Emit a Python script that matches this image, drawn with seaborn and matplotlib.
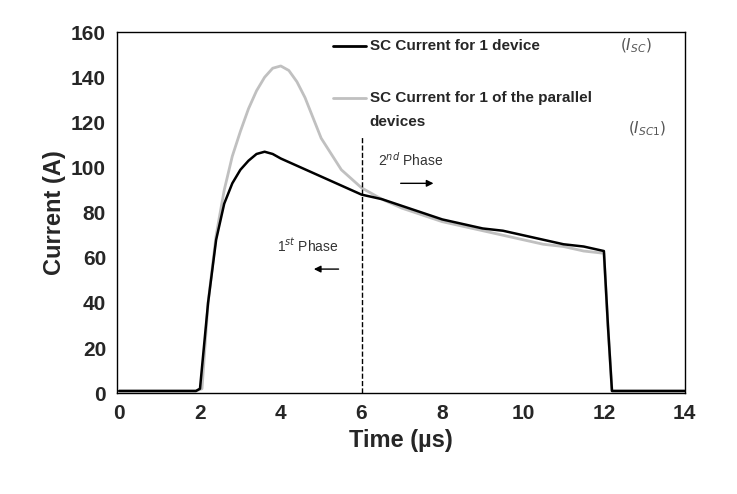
import numpy as np
import pandas as pd
import matplotlib
matplotlib.use('Agg')
import matplotlib.pyplot as plt
import seaborn as sns

# time points (µs) and currents (A)
t_single = [0, 1, 1.9, 2.0, 2.2, 2.4, 2.6, 2.8, 3.0, 3.2, 3.4, 3.6, 3.8, 4.0, 4.5, 5.0, 5.5,
            6.0, 6.5, 7.0, 7.5, 8.0, 8.5, 9.0, 9.5, 10.0, 10.5, 11.0, 11.5, 12.0, 12.1, 12.2, 13, 14]
i_single = [1, 1, 1, 2, 40, 68, 84, 93, 99, 103, 106, 107, 106, 104, 100, 96, 92,
            88, 86, 83, 80, 77, 75, 73, 72, 70, 68, 66, 65, 63, 30, 1, 1, 1]

t_par = [0, 1, 1.9, 2.05, 2.2, 2.4, 2.6, 2.8, 3.0, 3.2, 3.4, 3.6, 3.8, 4.0, 4.2, 4.4, 4.6, 4.8, 5.0,
         5.5, 6.0, 6.5, 7.0, 7.5, 8.0, 8.5, 9.0, 9.5, 10.0, 10.5, 11.0, 11.5, 12.0, 12.1, 12.2, 13, 14]
i_par = [1, 1, 1, 2, 40, 70, 90, 105, 116, 126, 134, 140, 144, 145, 143, 138, 131, 122, 113,
         99, 91, 86, 82, 79, 76, 74, 72, 70, 68, 66, 65, 63, 62, 30, 1, 1, 1]

sns.set_style('white')
plt.rcParams['font.family'] = ['Liberation Sans', 'DejaVu Sans']

fig = plt.figure(figsize=(7.37, 4.94), dpi=100)
ax = fig.add_axes([0.159, 0.204, 0.770, 0.731])

sns.lineplot(x=t_par, y=i_par, ax=ax, color='#c0c0c0', lw=2, sort=False)
sns.lineplot(x=t_single, y=i_single, ax=ax, color='black', lw=1.8, sort=False)

ax.set_xlim(-0.05, 14)
ax.set_ylim(0, 160)
ax.set_xticks(range(0, 15, 2))
ax.set_yticks(range(0, 161, 20))
for s in ax.spines.values():
    s.set_color('black')
    s.set_linewidth(1)
ax.tick_params(labelsize=15, length=0, pad=8)
for lab in ax.get_xticklabels() + ax.get_yticklabels():
    lab.set_fontweight('bold')
ax.set_xlabel('Time (µs)', fontsize=17, fontweight='bold')
ax.set_ylabel('Current (A)', fontsize=17, fontweight='bold')

# legend drawn by hand
ax.plot([5.3, 6.1], [154, 154], color='black', lw=2)
ax.text(6.2, 154, 'SC Current for 1 device', fontsize=11, fontweight='bold', va='center')
ax.text(12.4, 154, r'$(I_{SC})$', fontsize=11, color='#555555', va='center')
ax.plot([5.3, 6.1], [131, 131], color='#c0c0c0', lw=2)
ax.text(6.2, 131, 'SC Current for 1 of the parallel', fontsize=11, fontweight='bold', va='center')
ax.text(6.2, 120, 'devices', fontsize=11, fontweight='bold', va='center')
ax.text(12.6, 117, r'$(I_{SC1})$', fontsize=11, color='#555555', va='center')

# phase annotations
ax.plot([6, 6], [0, 114], color='black', lw=1, ls='--')
ax.text(6.4, 101, r'2$^{nd}$ Phase', fontsize=10, color='#333333')
ax.annotate('', xy=(7.85, 93), xytext=(6.9, 93),
            arrowprops=dict(arrowstyle='-|>', color='black', lw=1))
ax.text(3.9, 63, r'1$^{st}$ Phase', fontsize=10, color='#333333')
ax.annotate('', xy=(4.75, 55), xytext=(5.5, 55),
            arrowprops=dict(arrowstyle='-|>', color='black', lw=1))

fig.savefig('out.png', dpi=100)
